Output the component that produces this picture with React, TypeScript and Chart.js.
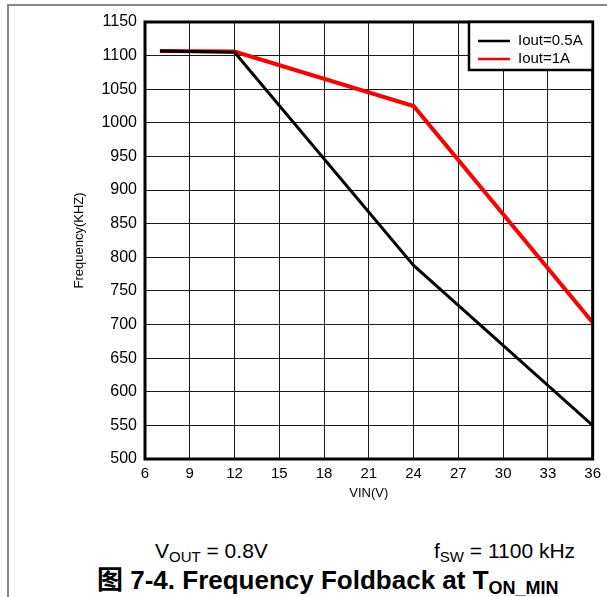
import React, { useEffect, useRef } from "react";
import { Chart, registerables } from "chart.js";

Chart.register(...registerables);

const vin05: number[] = [7, 12, 24, 36];
const freq05: number[] = [1107, 1105, 788, 550];
const vin1: number[] = [7, 12, 24, 36];
const freq1: number[] = [1107, 1106, 1025, 703];
const seriesLabels: string[] = ["Iout=0.5A", "Iout=1A"];
const xTicks: number[] = [6, 9, 12, 15, 18, 21, 24, 27, 30, 33, 36];
const yTicks: number[] = [500, 550, 600, 650, 700, 750, 800, 850, 900, 950, 1000, 1050, 1100, 1150];

const FONT = "'Liberation Sans', Arial, sans-serif";

const frameLegend = {
  id: "frameLegend",
  afterDatasetsDraw(chart: any) {
    const { ctx, chartArea } = chart;
    const { left, top, right, bottom } = chartArea;
    ctx.save();
    ctx.strokeStyle = "#000";
    ctx.lineWidth = 3;
    ctx.strokeRect(left, top, right - left, bottom - top);
    const bx = 469, by = top, bw = right - 469, bh = 48;
    ctx.fillStyle = "#fff";
    ctx.fillRect(bx, by, bw, bh);
    ctx.lineWidth = 2.5;
    ctx.strokeRect(bx, by, bw, bh);
    ctx.font = `15px ${FONT}`;
    ctx.textBaseline = "middle";
    chart.data.datasets.forEach((ds: any, i: number) => {
      const y = by + 19 + i * 18;
      ctx.strokeStyle = ds.borderColor;
      ctx.lineWidth = 2.5;
      ctx.beginPath();
      ctx.moveTo(bx + 9, y);
      ctx.lineTo(bx + 41, y);
      ctx.stroke();
      ctx.fillStyle = "#000";
      ctx.fillText(ds.label, bx + 49, y);
    });
    ctx.restore();
  },
};

function ChartView() {
  const ref = useRef<HTMLCanvasElement | null>(null);
  useEffect(() => {
    if (!ref.current) return;
    const chart = new Chart(ref.current, {
      type: "line",
      data: {
        datasets: [
          {
            label: seriesLabels[0],
            data: vin05.map((x, i) => ({ x, y: freq05[i] })),
            borderColor: "#000000",
            borderWidth: 3,
            pointRadius: 0,
            tension: 0,
          },
          {
            label: seriesLabels[1],
            data: vin1.map((x, i) => ({ x, y: freq1[i] })),
            borderColor: "#ff0000",
            borderWidth: 4,
            pointRadius: 0,
            tension: 0,
          },
        ],
      },
      options: {
        animation: false,
        responsive: false,
        layout: { padding: { top: 22, right: 10, left: 0, bottom: 0 } },
        plugins: { legend: { display: false }, tooltip: { enabled: false } },
        scales: {
          x: {
            type: "linear",
            min: xTicks[0],
            max: xTicks[xTicks.length - 1],
            afterBuildTicks: (axis: any) => {
              axis.ticks = xTicks.map((v) => ({ value: v }));
            },
            afterFit: (axis: any) => {
              axis.height = 46;
            },
            grid: { color: "#1a1a1a", lineWidth: 1, drawTicks: false },
            border: { display: false },
            ticks: { color: "#000", font: { family: FONT, size: 15 }, padding: 6, maxRotation: 0, callback: (v: any) => String(v) },
            title: {
              display: true,
              text: "VIN(V)",
              color: "#000",
              font: { family: FONT, size: 13 },
              padding: { top: 0, bottom: 4 },
            },
          },
          y: {
            type: "linear",
            min: yTicks[0],
            max: yTicks[yTicks.length - 1],
            afterBuildTicks: (axis: any) => {
              axis.ticks = yTicks.map((v) => ({ value: v }));
            },
            afterFit: (axis: any) => {
              axis.width = 145;
            },
            grid: { color: "#1a1a1a", lineWidth: 1, drawTicks: false },
            border: { display: false },
            ticks: { color: "#000", font: { family: FONT, size: 16 }, padding: 8, callback: (v: any) => String(v) },
            title: {
              display: true,
              text: "Frequency(KHZ)",
              color: "#000",
              font: { family: FONT, size: 13 },
              padding: { top: 72, bottom: 0 },
            },
          },
        },
      },
      plugins: [frameLegend],
    });
    return () => chart.destroy();
  }, []);
  return <canvas ref={ref} width={607} height={505} style={{ position: "absolute", left: 0, top: 0 }} />;
}

export default function App() {
  return (
    <div style={{ position: "absolute", left: 0, top: 0, width: 607, height: 597, background: "#fff", overflow: "hidden", fontFamily: FONT }}>
      <div style={{ position: "absolute", left: 7, top: 4, width: 620, height: 620, borderTop: "2px solid #888", borderLeft: "2px solid #888" }} />
      <ChartView />
      <div style={{ position: "absolute", left: 155, top: 539, fontSize: 21, lineHeight: "24px", color: "#000", whiteSpace: "nowrap" }}>
        V<sub style={{ fontSize: 15, verticalAlign: "-4px" }}>OUT</sub> = 0.8V
      </div>
      <div style={{ position: "absolute", left: 434, top: 539, fontSize: 21, lineHeight: "24px", color: "#000", whiteSpace: "nowrap" }}>
        f<sub style={{ fontSize: 15, verticalAlign: "-4px" }}>SW</sub> = 1100 kHz
      </div>
      <div style={{ position: "absolute", left: 97, top: 564, fontSize: 26, lineHeight: "28px", fontWeight: "bold", color: "#000", whiteSpace: "nowrap" }}>
        <span style={{ fontFamily: "'Noto Sans CJK SC', sans-serif" }}>图</span> 7-4. Frequency Foldback at T
        <sub style={{ fontSize: 18, verticalAlign: "-5px" }}>ON_MIN</sub>
      </div>
    </div>
  );
}
